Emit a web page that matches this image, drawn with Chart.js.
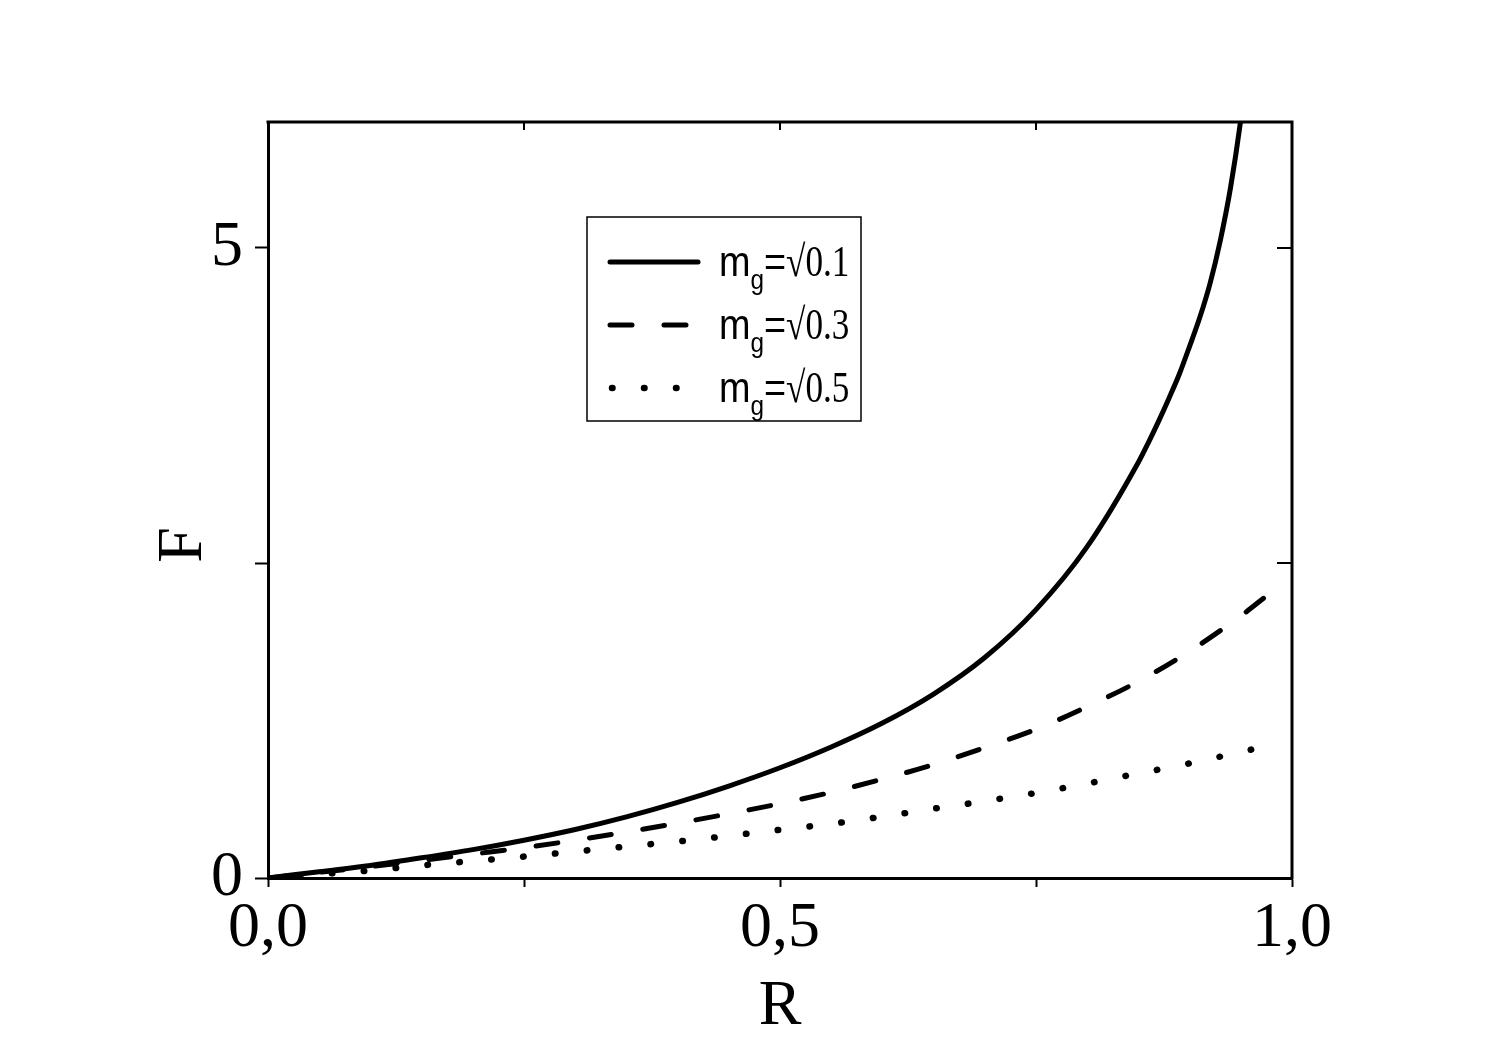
<!DOCTYPE html>
<html><head><meta charset="utf-8">
<script src="https://cdn.jsdelivr.net/npm/chart.js@4.4.0/dist/chart.umd.min.js"></script>
<style>html,body{margin:0;padding:0;background:#fff;}#wrap{width:1500px;height:1053px;position:relative;}</style>
</head><body><div id="wrap"><canvas id="c" width="1500" height="1053"></canvas></div>
<script>
// ---- data ----
const seriesLabels = ['0.1', '0.3', '0.5'];
const R_solid  = [0, 0.05, 0.1, 0.15, 0.2, 0.25, 0.3, 0.35, 0.4, 0.45, 0.5, 0.55, 0.6, 0.65, 0.7, 0.75, 0.8, 0.85, 0.86, 0.87, 0.88, 0.89, 0.9, 0.91, 0.92, 0.93, 0.94, 0.95, 0.96];
const F_solid  = [0, 0.05, 0.10, 0.16, 0.225, 0.30, 0.385, 0.485, 0.60, 0.73, 0.875, 1.04, 1.23, 1.46, 1.75, 2.13, 2.63, 3.3, 3.46, 3.63, 3.81, 4.0, 4.22, 4.45, 4.72, 5.06, 5.48, 6.02, 6.7];
const R_dashed = [0, 0.05, 0.1, 0.15, 0.2, 0.25, 0.3, 0.35, 0.4, 0.45, 0.5, 0.55, 0.6, 0.65, 0.7, 0.75, 0.8, 0.85, 0.9, 0.95, 0.98];
const F_dashed = [0, 0.045, 0.09, 0.14, 0.19, 0.24, 0.30, 0.365, 0.435, 0.51, 0.59, 0.68, 0.785, 0.90, 1.035, 1.18, 1.36, 1.56, 1.80, 2.08, 2.27];
const R_dotted = [0, 0.05, 0.1, 0.15, 0.2, 0.25, 0.3, 0.35, 0.4, 0.45, 0.5, 0.55, 0.6, 0.65, 0.7, 0.75, 0.8, 0.85, 0.9, 0.95, 0.985];
const F_dotted = [0, 0.03, 0.06, 0.10, 0.135, 0.17, 0.21, 0.25, 0.29, 0.335, 0.383, 0.43, 0.487, 0.55, 0.61, 0.675, 0.75, 0.83, 0.91, 1.00, 1.065];
const xTickLabels = {0: '0,0', 0.5: '0,5', 1: '1,0'};
const yTickLabels = {0: '0', 5: '5'};
const xTitle = 'R';
const yTitle = 'F';

const pts = (xs, ys) => xs.map((x, i) => ({x: x, y: ys[i]}));

const serif = 'Liberation Serif';
const sans = 'Liberation Sans';

const framePlugin = {
  id: 'frame',
  afterDraw(chart) {
    const {ctx, chartArea: {left, right, top, bottom}, scales: {x, y}} = chart;
    ctx.save();
    ctx.strokeStyle = '#000';
    ctx.lineWidth = 3;
    ctx.beginPath();
    ctx.moveTo(left - 1.5, top);
    ctx.lineTo(right, top);
    ctx.lineTo(right, bottom + 1.5);
    ctx.stroke();
    ctx.lineWidth = 2;
    ctx.beginPath();
    y.ticks.forEach(t => { const py = y.getPixelForValue(t.value); ctx.moveTo(right, py); ctx.lineTo(right - 15, py); });
    x.ticks.forEach(t => { const px = x.getPixelForValue(t.value); ctx.moveTo(px, top); ctx.lineTo(px, top + 8); });
    ctx.stroke();

    // y axis title
    ctx.save();
    ctx.fillStyle = '#000';
    ctx.font = '64px "' + serif + '"';
    ctx.textAlign = 'center';
    ctx.textBaseline = 'middle';
    ctx.translate(184, 545);
    ctx.rotate(-Math.PI / 2);
    ctx.fillText(yTitle, 0, 0);
    ctx.restore();

    // legend
    const bx = 587, by = 217, bw = 274, bh = 204;
    ctx.lineWidth = 1.5;
    ctx.strokeRect(bx, by, bw, bh);
    chart.data.datasets.forEach((ds, i) => {
      const ly = 262 + i * 63;
      ctx.save();
      ctx.lineWidth = ds.borderWidth;
      ctx.lineCap = 'round';
      ctx.setLineDash(ds.borderDash || []);
      ctx.beginPath();
      ctx.moveTo(i === 2 ? 612 : 610, ly);
      ctx.lineTo(698, ly);
      ctx.stroke();
      ctx.restore();
      ctx.fillStyle = '#000';
      ctx.textBaseline = 'alphabetic';
      ctx.textAlign = 'left';
      const base = ly + 14;
      ctx.save();
      ctx.translate(719, base);
      ctx.scale(0.9, 1);
      let tx = 0;
      ctx.font = '42px "' + sans + '"';
      ctx.fillText('m', tx, 0);
      tx += ctx.measureText('m').width;
      ctx.font = '27px "' + sans + '"';
      ctx.fillText('g', tx, 13);
      tx += ctx.measureText('g').width;
      ctx.font = '42px "' + sans + '"';
      ctx.fillText('=', tx, 0);
      tx += ctx.measureText('=').width;
      ctx.restore();
      ctx.save();
      ctx.translate(719 + tx * 0.9, base);
      ctx.scale(0.8, 1);
      ctx.font = '44px "' + serif + '"';
      ctx.fillText('\u221A' + seriesLabels[i], 0, 0);
      ctx.restore();
    });
    ctx.restore();
  }
};

new Chart(document.getElementById('c'), {
  type: 'line',
  data: {
    datasets: [
      {label: 'mg=√' + seriesLabels[0], data: pts(R_solid, F_solid), borderColor: '#000', borderWidth: 5, borderDash: [], pointRadius: 0, cubicInterpolationMode: 'monotone', fill: false},
      {label: 'mg=√' + seriesLabels[1], data: pts(R_dashed, F_dashed), borderColor: '#000', borderWidth: 5, borderDash: [22, 32], borderCapStyle: 'round', pointRadius: 0, cubicInterpolationMode: 'monotone', fill: false},
      {label: 'mg=√' + seriesLabels[2], data: pts(R_dotted, F_dotted), borderColor: '#000', borderWidth: 6.5, borderDash: [0.5, 31.5], borderCapStyle: 'round', pointRadius: 0, cubicInterpolationMode: 'monotone', fill: false}
    ]
  },
  options: {
    responsive: false,
    animation: false,
    devicePixelRatio: 1,
    layout: {padding: {left: 0, top: 122, right: 208, bottom: 0}},
    plugins: {legend: {display: false}, tooltip: {enabled: false}},
    scales: {
      x: {
        type: 'linear', min: 0, max: 1,
        ticks: {stepSize: 0.25, autoSkip: false, maxRotation: 0, padding: 4, color: '#000',
          font: {family: serif, size: 64},
          callback: v => (xTickLabels[v] !== undefined ? xTickLabels[v] : '')},
        grid: {drawOnChartArea: false, drawTicks: true, tickLength: 9, tickWidth: 2, tickColor: '#000'},
        border: {display: true, color: '#000', width: 3},
        title: {display: true, text: xTitle, color: '#000', font: {family: serif, size: 64}, padding: {top: 0, bottom: 7}},
        afterFit: s => { s.height = 175; }
      },
      y: {
        type: 'linear', min: 0, max: 6,
        ticks: {stepSize: 2.5, includeBounds: false, padding: 12, color: '#000',
          font: {family: serif, size: 64},
          callback: v => (yTickLabels[v] !== undefined ? yTickLabels[v] : '')},
        grid: {drawOnChartArea: false, drawTicks: true, tickLength: 13, tickWidth: 2, tickColor: '#000'},
        border: {display: true, color: '#000', width: 3},
        title: {display: false, text: yTitle},
        afterFit: s => { s.width = 268; }
      }
    }
  },
  plugins: [framePlugin]
});
</script>
</body></html>
